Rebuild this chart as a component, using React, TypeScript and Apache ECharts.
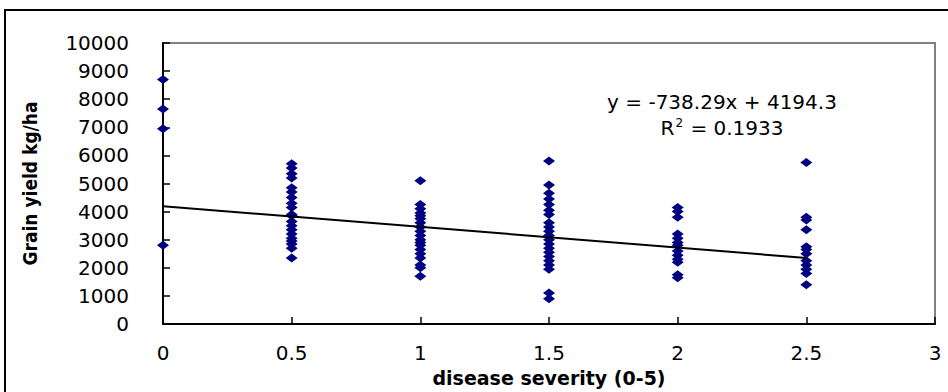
import React, { useEffect, useRef } from "react";
import * as echarts from "echarts";

const severityLevels = [0, 0.5, 1, 1.5, 2, 2.5];
const yieldAt0 = [8700, 7650, 6950, 2800];
const yieldAt05 = [5700, 5550, 5350, 5200, 4850, 4700, 4500, 4300, 4150, 3900, 3850, 3650, 3500, 3350, 3200, 3050, 2950, 2850, 2700, 2350];
const yieldAt1 = [5100, 4250, 4100, 3950, 3850, 3750, 3600, 3450, 3300, 3150, 3000, 2900, 2800, 2650, 2500, 2350, 2100, 2000, 1700];
const yieldAt15 = [5800, 4950, 4650, 4450, 4250, 4050, 3900, 3600, 3450, 3300, 3150, 3000, 2850, 2700, 2550, 2400, 2250, 2100, 1950, 1100, 900];
const yieldAt2 = [4150, 4000, 3800, 3200, 3050, 2900, 2800, 2600, 2450, 2300, 2200, 1750, 1650];
const yieldAt25 = [5750, 3800, 3700, 3350, 2750, 2650, 2500, 2250, 2100, 1950, 1800, 1400];
const slope = -738.29;
const intercept = 4194.3;
const trendRange = [0, 2.5];
const equationText = "y = -738.29x + 4194.3";
const rSquaredValue = "0.1933";

export default function App() {
  const ref = useRef<HTMLDivElement>(null);
  useEffect(() => {
    if (!ref.current) return;
    const chart = echarts.init(ref.current, null, { renderer: "svg" });
    const groups = [yieldAt0, yieldAt05, yieldAt1, yieldAt15, yieldAt2, yieldAt25];
    const points: number[][] = [];
    groups.forEach((g, i) => g.forEach((v) => points.push([severityLevels[i], v])));
    const trend = trendRange.map((x) => [x, intercept + slope * x]);
    const font = "DejaVu Sans, Liberation Sans, Arial, sans-serif";
    chart.setOption({
      animation: false,
      backgroundColor: "#ffffff",
      grid: {
        left: 163,
        right: 13,
        top: 43,
        bottom: 65,
        show: true,
        borderColor: "#808080",
        borderWidth: 2,
      },
      xAxis: {
        type: "value",
        min: 0,
        max: 3,
        interval: 0.5,
        name: "disease severity (0-5)",
        nameLocation: "middle",
        nameGap: 44,
        nameTextStyle: { fontFamily: font, fontWeight: "bold", fontSize: 19, color: "#000" },
        axisLine: { show: true, onZero: false, lineStyle: { color: "#000", width: 2 } },
        axisTick: { show: true, inside: true, length: 7, lineStyle: { color: "#000", width: 1.5 } },
        axisLabel: { fontFamily: font, fontSize: 20, color: "#000", margin: 19, formatter: (v: number) => String(v) },
        splitLine: { show: false },
      },
      yAxis: {
        type: "value",
        min: 0,
        max: 10000,
        interval: 1000,
        name: "Grain yield kg/ha",
        nameLocation: "middle",
        nameGap: 124,
        nameTextStyle: { fontFamily: "DejaVu Sans Condensed, Liberation Sans Narrow, Liberation Sans, sans-serif", fontWeight: "bold", fontSize: 19, color: "#000" },
        axisLine: { show: true, lineStyle: { color: "#000", width: 2 } },
        axisTick: { show: true, inside: true, length: 7, lineStyle: { color: "#000", width: 1.5 } },
        axisLabel: { fontFamily: font, fontSize: 20, color: "#000", margin: 34, formatter: (v: number) => String(v) },
        splitLine: { show: false },
      },
      series: [
        {
          type: "scatter",
          data: points,
          symbol: "diamond",
          symbolSize: [12, 9],
          itemStyle: { color: "#000080", opacity: 1 },
          z: 3,
        },
        {
          type: "line",
          data: trend,
          symbol: "none",
          lineStyle: { color: "#000", width: 2 },
          z: 4,
        },
      ],
      graphic: [
        {
          type: "rect",
          shape: { x: 5, y: 10, width: 980, height: 420 },
          style: { fill: "none", stroke: "#000", lineWidth: 2 },
          silent: true,
        },
        {
          type: "text",
          x: 722,
          y: 102,
          style: {
            text: equationText,
            fontFamily: font,
            fontSize: 20,
            fill: "#000",
            align: "center",
            verticalAlign: "middle",
          },
        },
        {
          type: "text",
          x: 722,
          y: 128,
          style: {
            text: "R{sup|2} = " + rSquaredValue,
            fontFamily: font,
            fontSize: 20,
            fill: "#000",
            align: "center",
            verticalAlign: "middle",
            rich: {
              sup: { fontFamily: font, fontSize: 12, verticalAlign: "top", padding: [0, 1, 10, 1] },
            },
          },
        },
      ],
    });
    return () => chart.dispose();
  }, []);
  return (
    <div
      ref={ref}
      style={{ position: "fixed", left: 0, top: 0, width: 948, height: 392, background: "#fff" }}
    />
  );
}
